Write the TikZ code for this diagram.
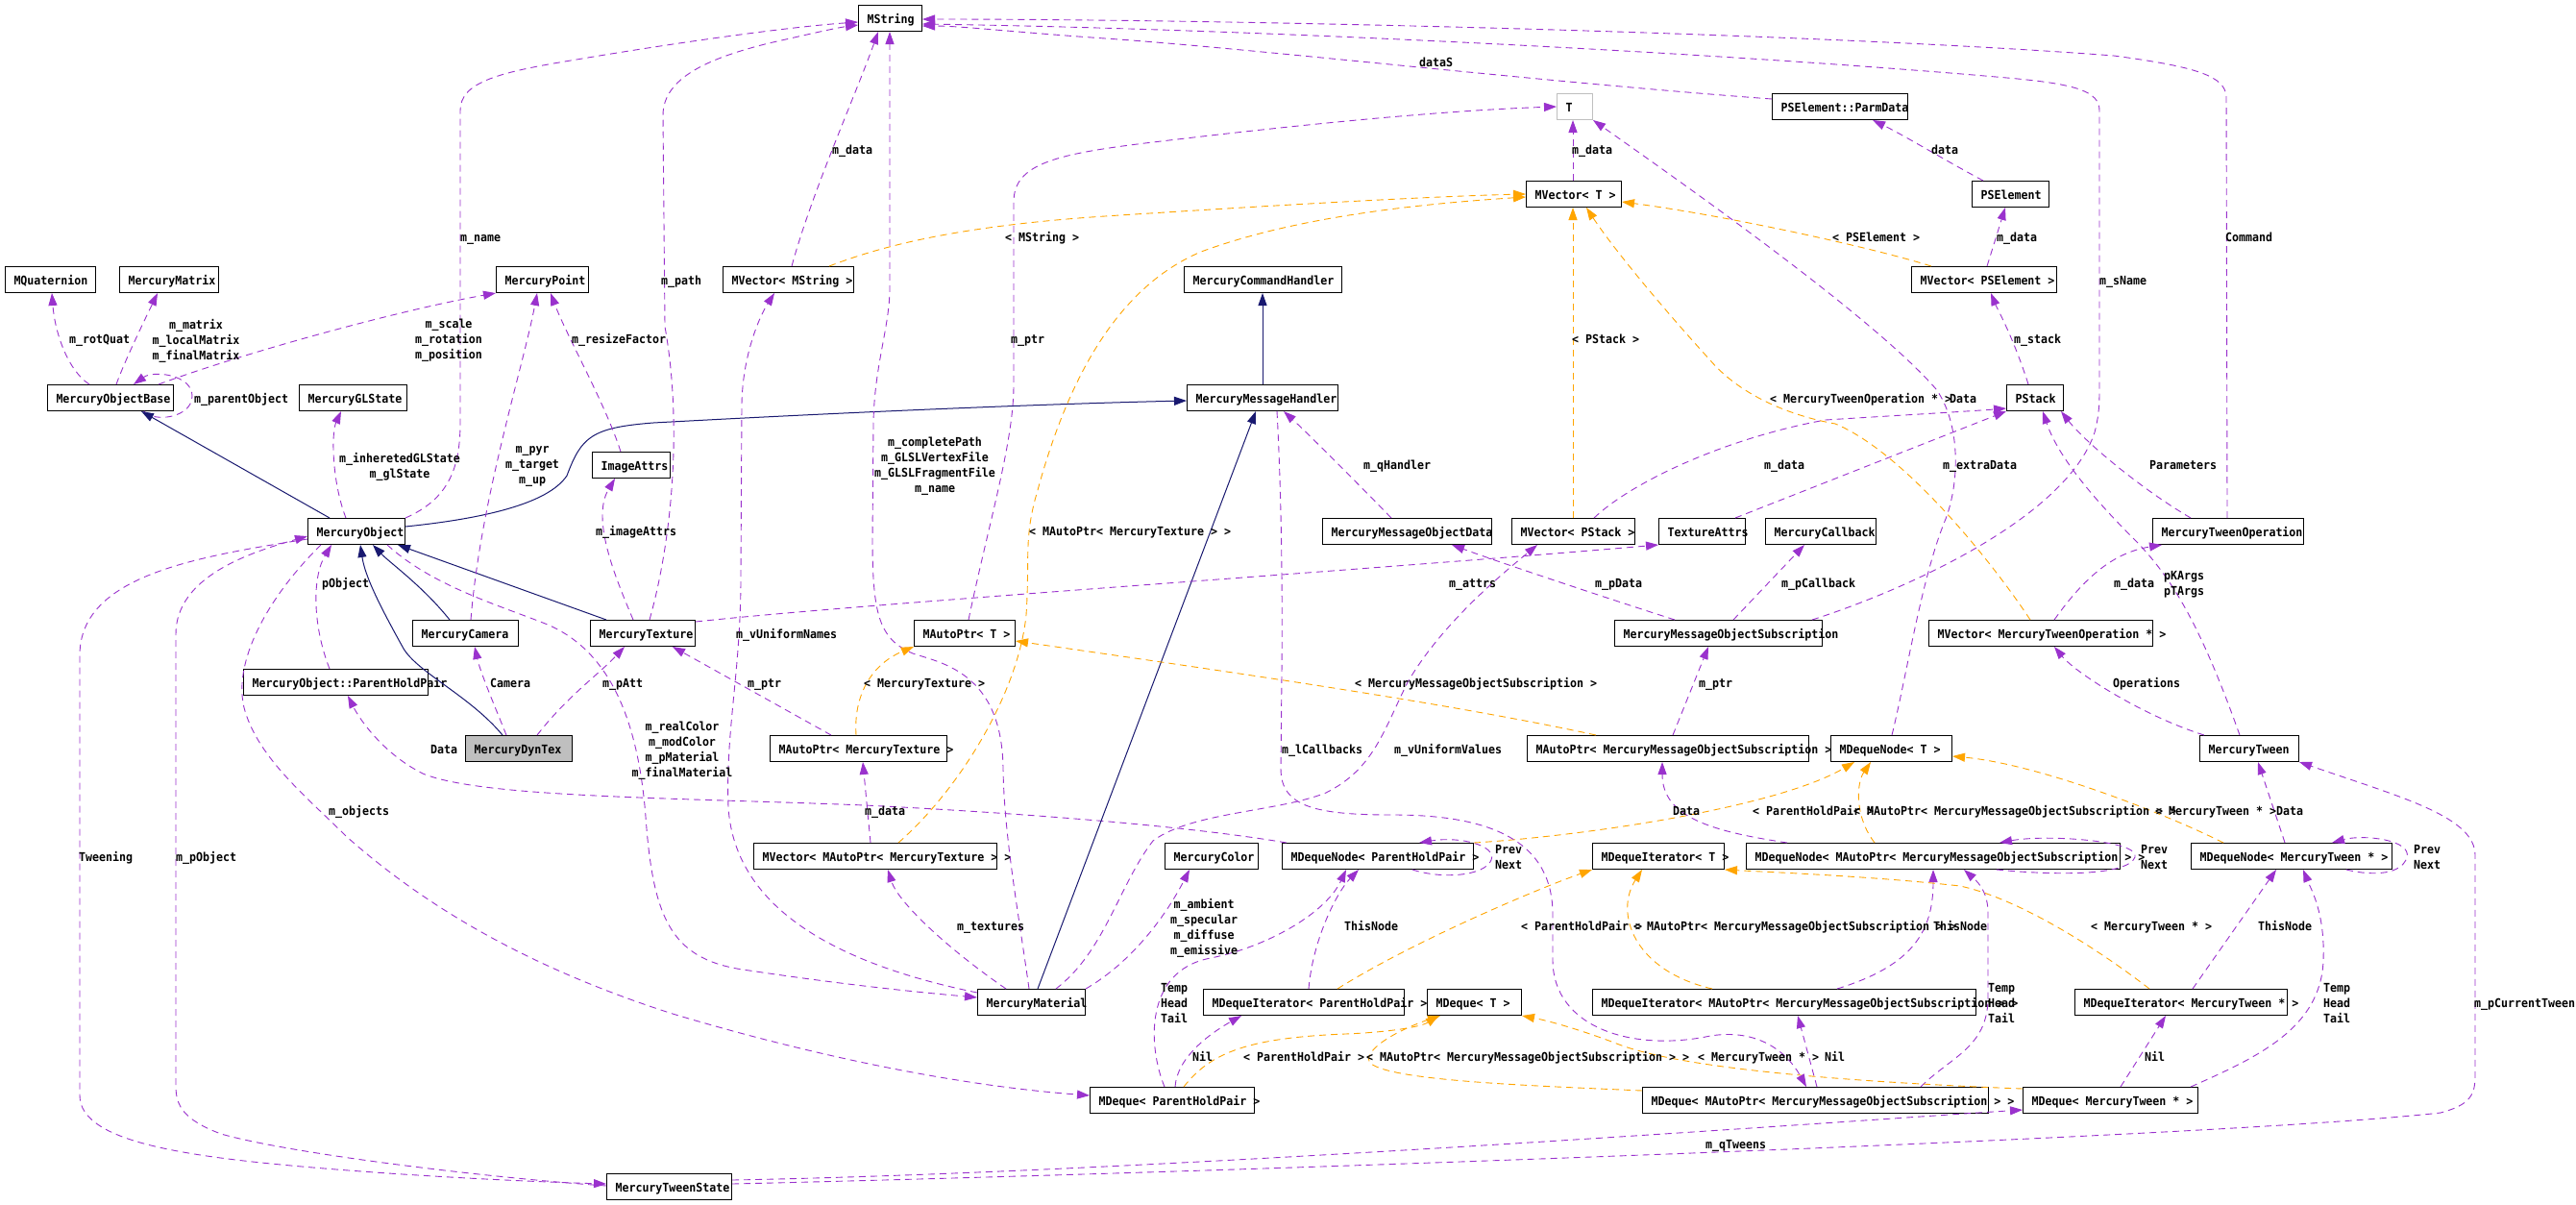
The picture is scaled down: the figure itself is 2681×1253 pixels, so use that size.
\documentclass[tikz,border=0pt]{standalone}
\usepackage{fontspec}
\newfontfamily\dgmono[FakeStretch=0.93]{DejaVu Sans Mono}
\newcommand\dgfont{\dgmono\bfseries\fontsize{12.5}{16}\selectfont}
\usetikzlibrary{arrows.meta}
\definecolor{cpurp}{HTML}{9A32CD}
\definecolor{cnavy}{HTML}{191970}
\definecolor{corng}{HTML}{FFA500}
\definecolor{cgrey}{HTML}{BFBFBF}
\tikzset{
 cbox/.style={draw=black, line width=1pt, anchor=north west, minimum height=27pt, inner xsep=9pt, inner ysep=0pt, text height=12pt, text depth=1pt, font=\dgfont},
 lbl/.style={anchor=west, inner sep=0pt, text height=10pt, text depth=1pt, font=\dgfont},
 lblm/.style={anchor=north, inner sep=0pt, align=center, font=\dgfont},
 lbll/.style={anchor=north west, inner sep=0pt, align=left, font=\dgfont},
 euse/.style={draw=cpurp, line width=0.9pt, dash pattern=on 7pt off 5pt, -{Triangle[length=13pt,width=9pt]}},
 etpl/.style={draw=corng, line width=0.9pt, dash pattern=on 7pt off 5pt, -{Triangle[length=13pt,width=9pt]}},
 einh/.style={draw=cnavy, line width=1pt, -{Triangle[length=13pt,width=9pt]}}
}
\begin{document}
\begin{tikzpicture}[x=1pt,y=-1pt]
\fill[white] (0,0) rectangle (2681,1253);
\useasboundingbox (0,0) rectangle (2681,1253);
% nodes
\node[cbox] (MString) at (893,5) {\makebox[48pt][l]{MString}};
\node[cbox, draw=cgrey] (T) at (1620,97) {\makebox[19pt][l]{T}};
\node[cbox] (PPD) at (1844,97) {\makebox[123pt][l]{PSElement::ParmData}};
\node[cbox] (MQ) at (5,277) {\makebox[76pt][l]{MQuaternion}};
\node[cbox] (MM) at (124,277) {\makebox[85pt][l]{MercuryMatrix}};
\node[cbox] (MP) at (516,277) {\makebox[78pt][l]{MercuryPoint}};
\node[cbox] (MVS) at (752,277) {\makebox[118pt][l]{MVector< MString >}};
\node[cbox] (MCH) at (1232,277) {\makebox[146pt][l]{MercuryCommandHandler}};
\node[cbox] (MVT) at (1588,188) {\makebox[81pt][l]{MVector< T >}};
\node[cbox] (PSE) at (2052,188) {\makebox[62pt][l]{PSElement}};
\node[cbox] (MVP) at (1989,277) {\makebox[133pt][l]{MVector< PSElement >}};
\node[cbox] (MOB) at (49,400) {\makebox[113pt][l]{MercuryObjectBase}};
\node[cbox] (MGL) at (311,400) {\makebox[94pt][l]{MercuryGLState}};
\node[cbox] (MMH) at (1235,400) {\makebox[139pt][l]{MercuryMessageHandler}};
\node[cbox] (PS) at (2088,400) {\makebox[41pt][l]{PStack}};
\node[cbox] (IA) at (616,470) {\makebox[63pt][l]{ImageAttrs}};
\node[cbox] (MO) at (320,539) {\makebox[83pt][l]{MercuryObject}};
\node[cbox] (MMOD) at (1376,539) {\makebox[158pt][l]{MercuryMessageObjectData}};
\node[cbox] (MVPS) at (1573,539) {\makebox[110pt][l]{MVector< PStack >}};
\node[cbox] (TA) at (1726,539) {\makebox[72pt][l]{TextureAttrs}};
\node[cbox] (MCB) at (1837,539) {\makebox[97pt][l]{MercuryCallback}};
\node[cbox] (MTO) at (2240,539) {\makebox[139pt][l]{MercuryTweenOperation}};
\node[cbox] (MC) at (429,645) {\makebox[92pt][l]{MercuryCamera}};
\node[cbox] (MT) at (614,645) {\makebox[91pt][l]{MercuryTexture}};
\node[cbox] (MAT) at (951,645) {\makebox[87pt][l]{MAutoPtr< T >}};
\node[cbox] (MMOS) at (1680,645) {\makebox[198pt][l]{MercuryMessageObjectSubscription}};
\node[cbox] (MVTO) at (2007,645) {\makebox[215pt][l]{MVector< MercuryTweenOperation * >}};
\node[cbox] (PHP) at (253,696) {\makebox[174pt][l]{MercuryObject::ParentHoldPair}};
\node[cbox, fill=cgrey] (MDT) at (484,765) {\makebox[93pt][l]{MercuryDynTex}};
\node[cbox] (MAMT) at (801,765) {\makebox[166pt][l]{MAutoPtr< MercuryTexture >}};
\node[cbox] (MAMM) at (1589,765) {\makebox[275pt][l]{MAutoPtr< MercuryMessageObjectSubscription >}};
\node[cbox] (MDNT) at (1905,765) {\makebox[108pt][l]{MDequeNode< T >}};
\node[cbox] (MTw) at (2289,765) {\makebox[85pt][l]{MercuryTween}};
\node[cbox] (MVAMT) at (784,877) {\makebox[235pt][l]{MVector< MAutoPtr< MercuryTexture > >}};
\node[cbox] (MCol) at (1212,877) {\makebox[79pt][l]{MercuryColor}};
\node[cbox] (MDNP) at (1334,877) {\makebox[181pt][l]{MDequeNode< ParentHoldPair >}};
\node[cbox] (MDIT) at (1657,877) {\makebox[119pt][l]{MDequeIterator< T >}};
\node[cbox] (MDNA) at (1817,877) {\makebox[371pt][l]{MDequeNode< MAutoPtr< MercuryMessageObjectSubscription > >}};
\node[cbox] (MDNW) at (2280,877) {\makebox[191pt][l]{MDequeNode< MercuryTween * >}};
\node[cbox] (MMat) at (1017,1029) {\makebox[94pt][l]{MercuryMaterial}};
\node[cbox] (MDIP) at (1252,1029) {\makebox[191pt][l]{MDequeIterator< ParentHoldPair >}};
\node[cbox] (MDqT) at (1485,1029) {\makebox[80pt][l]{MDeque< T >}};
\node[cbox] (MDIA) at (1657,1029) {\makebox[381pt][l]{MDequeIterator< MAutoPtr< MercuryMessageObjectSubscription > >}};
\node[cbox] (MDIW) at (2159,1029) {\makebox[203pt][l]{MDequeIterator< MercuryTween * >}};
\node[cbox] (MDqP) at (1134,1131) {\makebox[153pt][l]{MDeque< ParentHoldPair >}};
\node[cbox] (MDqA) at (1709,1131) {\makebox[342pt][l]{MDeque< MAutoPtr< MercuryMessageObjectSubscription > >}};
\node[cbox] (MDqW) at (2105,1131) {\makebox[164pt][l]{MDeque< MercuryTween * >}};
\node[cbox] (MTS) at (631,1221) {\makebox[112pt][l]{MercuryTweenState}};
% edges
\draw[euse] ([xshift=44pt]MOB.north west) .. controls (70,385) and (57,345) .. ([xshift=49pt]MQ.south west);
\draw[euse] ([xshift=72pt]MOB.north west) .. controls (130,375) and (152,330) .. ([xshift=40pt]MM.south west);
\draw[euse] ([xshift=116pt]MOB.north west) .. controls (260,365) and (420,322) .. (MP.south west);
\draw[euse] ([xshift=101pt]MOB.south west) .. controls (160,440) and (200,435) .. (200,412) .. controls (200,390) and (160,385) .. ([xshift=90pt]MOB.north west);
\draw[einh] ([xshift=23pt]MO.north west) -- ([xshift=98pt]MOB.south west);
\draw[euse] ([xshift=40pt]MO.north west) .. controls (345,500) and (345,450) .. ([xshift=44pt]MGL.south west);
\draw[euse] (MO.north east) .. controls (465,520) and (479,490) .. (479,440) -- (479,115) .. controls (479,85) and (520,75) .. (600,62) .. controls (700,45) and (820,28) .. ([yshift=-18pt]MString.north west);
\draw[einh] ([yshift=-9pt]MO.north east) .. controls (500,540) and (570,525) .. (590,495) .. controls (605,455) and (615,445) .. (680,440) .. controls (900,428) and (1100,420) .. ([yshift=-17pt]MMH.north west);
\draw[einh] ([xshift=39pt]MC.north west) .. controls (440,610) and (405,585) .. ([xshift=68pt]MO.south west);
\draw[einh] ([xshift=17pt]MT.north west) -- ([xshift=94pt]MO.south west);
\draw[einh] ([xshift=39pt]MDT.north west) .. controls (490,725) and (435,700) .. (420,675) .. controls (395,630) and (380,600) .. ([xshift=55pt]MO.south west);
\draw[euse] ([xshift=61pt]MC.north west) .. controls (500,520) and (545,380) .. ([xshift=43pt]MP.south west);
\draw[euse] ([xshift=30pt]IA.north west) .. controls (630,420) and (590,350) .. ([xshift=57pt]MP.south west);
\draw[euse] ([xshift=45pt]MT.north west) .. controls (640,600) and (615,540) .. ([xshift=24pt]IA.south west);
\draw[euse] ([xshift=62pt]MT.north west) .. controls (700,560) and (710,440) .. (692,340) -- (690,120) .. controls (690,80) and (740,60) .. (800,45) .. controls (840,36) and (870,29) .. ([yshift=-21pt]MString.north west);
\draw[euse] ([xshift=43pt]MDT.north west) .. controls (515,735) and (500,700) .. ([xshift=65pt]MC.south west);
\draw[euse] ([xshift=75pt]MDT.north west) .. controls (590,725) and (625,700) .. ([xshift=36pt]MT.south west);
\draw[euse] ([xshift=90pt]PHP.north west) .. controls (325,650) and (325,600) .. ([xshift=25pt]MO.south west);
\draw[euse] ([xshift=5pt]MDNP.north west) .. controls (1250,862) and (1100,848) .. (900,838) .. controls (700,830) and (500,830) .. (440,805) .. controls (400,785) and (375,750) .. ([xshift=109pt]PHP.south west);
\draw[euse] ([xshift=83pt]MO.south west) .. controls (450,610) and (520,630) .. (570,650) .. controls (640,680) and (665,760) .. (672,850) .. controls (680,960) and (700,1000) .. (780,1010) .. controls (880,1025) and (960,1033) .. ([yshift=-9pt]MMat.north west);
\draw[euse] ([yshift=-4pt]MMat.north west) .. controls (880,1005) and (765,950) .. (758,840) .. controls (755,760) and (771,700) .. (771,600) -- (772,420) .. controls (773,370) and (790,330) .. ([xshift=54pt]MVS.south west);
\draw[euse] ([xshift=54pt]MMat.north west) .. controls (1060,950) and (1045,870) .. (1044,800) .. controls (1043,700) and (980,690) .. (950,680) .. controls (915,665) and (908,640) .. (908,560) -- (909,440) .. controls (910,380) and (926,340) .. (926,300) -- ([xshift=33pt]MString.south west);
\draw[euse] ([xshift=30pt]MMat.north west) .. controls (990,990) and (935,940) .. ([xshift=140pt]MVAMT.south west);
\draw[einh] ([xshift=63pt]MMat.north west) -- ([xshift=72pt]MMH.south west);
\draw[euse] ([xshift=82pt]MMat.north west) .. controls (1150,990) and (1165,920) .. (1200,875) .. controls (1240,845) and (1330,845) .. (1380,825) .. controls (1430,800) and (1440,760) .. (1465,710) .. controls (1500,650) and (1560,600) .. ([xshift=27pt]MVPS.south west);
\draw[euse] (MMat.north east) .. controls (1180,1000) and (1215,950) .. ([xshift=26pt]MCol.south west);
\draw[euse] ([yshift=-2pt]MT.north east) .. controls (900,628) and (1400,595) .. (TA.south west);
\draw[euse] ([xshift=64pt]MAMT.north west) -- ([xshift=86pt]MT.south west);
\draw[etpl] ([xshift=90pt]MAMT.north west) .. controls (888,720) and (910,690) .. (MAT.south west);
\draw[euse] ([xshift=122pt]MVAMT.north west) -- ([xshift=97pt]MAMT.south west);
\draw[etpl] ([xshift=151pt]MVAMT.north west) .. controls (1000,820) and (1060,720) .. (1068,640) .. controls (1072,580) and (1065,560) .. (1080,510) .. controls (1110,400) and (1160,300) .. (1250,262) .. controls (1350,225) and (1480,212) .. ([yshift=-17pt]MVT.north west);
\draw[etpl] ([xshift=111pt]MVS.north west) .. controls (920,255) and (1000,235) .. (1150,225) .. controls (1350,212) and (1500,204) .. ([yshift=-14pt]MVT.north west);
\draw[euse] ([xshift=72pt]MVS.north west) .. controls (845,200) and (890,100) .. ([xshift=21pt]MString.south west);
\draw[euse] ([xshift=49pt]MVT.north west) -- ([xshift=17pt]T.south west);
\draw[euse] ([xshift=57pt]MAT.north west) .. controls (1030,540) and (1055,460) .. (1055,400) -- (1055,210) .. controls (1055,170) and (1100,160) .. (1200,148) .. controls (1350,130) and (1500,115) .. ([yshift=-14pt]T.north west);
\draw[etpl] ([xshift=72pt]MAMM.north west) .. controls (1500,730) and (1250,695) .. ([yshift=-22pt]MAT.north east);
\draw[euse] ([xshift=152pt]MAMM.north west) -- ([xshift=98pt]MMOS.south west);
\draw[euse] ([xshift=63pt]MMOS.north west) .. controls (1680,625) and (1560,585) .. ([xshift=135pt]MMOD.south west);
\draw[euse] ([xshift=124pt]MMOS.north west) -- ([xshift=41pt]MCB.south west);
\draw[euse] ([xshift=206pt]MMOS.north west) .. controls (1980,615) and (2150,540) .. (2180,450) .. controls (2185,430) and (2185,420) .. (2185,400) -- (2185,115) .. controls (2185,95) and (2160,88) .. (2100,82) .. controls (1800,55) and (1300,30) .. ([yshift=-20pt]MString.north east);
\draw[euse] ([xshift=78pt]MTO.north west) -- (2317,100) .. controls (2315,80) and (2290,70) .. (2200,58) .. controls (1900,35) and (1300,20) .. ([yshift=-15pt]MString.north east);
\draw[euse] ([yshift=-6pt]PPD.north west) .. controls (1600,85) and (1300,50) .. (1150,40) .. controls (1050,33) and (1000,27) .. ([yshift=-22pt]MString.north east);
\draw[euse] ([xshift=12pt]PSE.north west) .. controls (2030,170) and (1980,140) .. ([xshift=105pt]PPD.south west);
\draw[euse] ([xshift=79pt]MVP.north west) -- ([xshift=35pt]PSE.south west);
\draw[etpl] ([xshift=21pt]MVP.north west) .. controls (1950,258) and (1800,225) .. ([yshift=-22pt]MVT.north east);
\draw[euse] ([xshift=23pt]PS.north west) .. controls (2095,350) and (2078,320) .. ([xshift=83pt]MVP.south west);
\draw[euse] ([xshift=86pt]MVPS.north west) .. controls (1700,500) and (1800,455) .. (1900,437) .. controls (1980,432) and (2050,428) .. ([yshift=-25pt]PS.north west);
\draw[euse] ([xshift=80pt]TA.north west) -- (PS.south west);
\draw[euse] ([xshift=64pt]MDNT.north west) .. controls (1985,700) and (2000,600) .. (2025,540) .. controls (2040,500) and (2040,440) .. (2015,405) .. controls (1950,330) and (1750,190) .. (T.south east);
\draw[etpl] ([xshift=106pt]MVTO.north west) .. controls (2070,580) and (1980,470) .. (1910,441) .. controls (1860,432) and (1810,410) .. (1780,375) .. controls (1730,320) and (1680,260) .. ([xshift=63pt]MVT.south west);
\draw[etpl] ([xshift=64pt]MVPS.north west) -- ([xshift=49pt]MVT.south west);
\draw[euse] ([xshift=131pt]MVTO.north west) .. controls (2170,600) and (2200,575) .. ([xshift=10pt]MTO.south west);
\draw[euse] ([xshift=40pt]MTO.north west) .. controls (2230,510) and (2170,460) .. ([xshift=57pt]PS.south west);
\draw[euse] ([xshift=42pt]MTw.north west) .. controls (2290,650) and (2260,600) .. (2220,560) .. controls (2170,510) and (2140,470) .. ([xshift=38pt]PS.south west);
\draw[euse] ([xshift=5pt]MTw.north west) .. controls (2230,745) and (2160,700) .. ([xshift=131pt]MVTO.south west);
\draw[euse] ([xshift=98pt]MDNW.north west) -- ([xshift=61pt]MTw.south west);
\draw[etpl] ([xshift=34pt]MDNW.north west) .. controls (2250,845) and (2120,795) .. ([yshift=-22pt]MDNT.north east);
\draw[euse] ([yshift=-11pt]MTS.north east) .. controls (1200,1222) and (2300,1185) .. (2540,1158) .. controls (2570,1150) and (2576,1140) .. (2576,1120) -- (2576,890) .. controls (2576,850) and (2500,830) .. (MTw.south east);
\draw[euse] ([yshift=-7pt]MTS.north east) .. controls (1200,1220) and (1900,1168) .. ([yshift=-24pt]MDqW.north west);
\draw[euse] ([yshift=-22pt]MO.north west) .. controls (200,580) and (85,600) .. (83,680) -- (83,1140) .. controls (83,1190) and (200,1205) .. (350,1217) .. controls (450,1225) and (560,1230) .. ([yshift=-11pt]MTS.north west);
\draw[euse] ([yshift=-13pt]MTS.north west) .. controls (500,1225) and (300,1200) .. (230,1180) .. controls (190,1165) and (183,1150) .. (183,1130) -- (183,660) .. controls (183,600) and (260,575) .. ([yshift=-19pt]MO.north west);
\draw[euse] ([xshift=14pt]MO.south west) .. controls (280,620) and (240,690) .. (255,740) .. controls (270,790) and (320,830) .. (360,870) .. controls (450,950) and (560,1010) .. (700,1055) .. controls (850,1100) and (1000,1130) .. ([yshift=-9pt]MDqP.north west);
\draw[euse] ([xshift=89pt]MDqP.north west) .. controls (1225,1100) and (1260,1075) .. ([xshift=40pt]MDIP.south west);
\draw[euse] ([xshift=78pt]MDqP.north west) .. controls (1195,1090) and (1190,1010) .. (1260,997) .. controls (1320,985) and (1380,950) .. ([xshift=67pt]MDNP.south west);
\draw[etpl] ([xshift=98pt]MDqP.north west) .. controls (1260,1095) and (1300,1080) .. (1400,1076) .. controls (1450,1074) and (1480,1068) .. ([xshift=12pt]MDqT.south west);
\draw[euse] ([xshift=110pt]MDIP.north west) .. controls (1366,980) and (1390,930) .. ([xshift=80pt]MDNP.south west);
\draw[etpl] ([xshift=140pt]MDIP.north west) .. controls (1470,980) and (1600,925) .. (MDIT.south west);
\draw[euse] ([xshift=136pt]MDNP.south west) .. controls (1500,915) and (1545,912) .. (1552,895) .. controls (1558,880) and (1520,870) .. ([xshift=143pt]MDNP.north west);
\draw[etpl] (MDNP.north east) .. controls (1650,870) and (1850,840) .. ([xshift=25pt]MDNT.south west);
\draw[euse] ([xshift=43pt]MDNA.north west) .. controls (1780,865) and (1730,850) .. ([xshift=141pt]MAMM.south west);
\draw[etpl] ([xshift=134pt]MDNA.north west) .. controls (1930,850) and (1932,815) .. ([xshift=42pt]MDNT.south west);
\draw[euse] ([xshift=261pt]MDNA.south west) .. controls (2150,912) and (2215,910) .. (2222,892) .. controls (2228,875) and (2130,868) .. ([xshift=264pt]MDNA.north west);
\draw[euse] ([xshift=290pt]MDqA.north west) .. controls (2030,1100) and (2068,1090) .. (2069,1040) -- (2069,950) .. controls (2069,925) and (2055,915) .. ([xshift=227pt]MDNA.south west);
\draw[euse] ([xshift=255pt]MDIA.north west) .. controls (1990,1005) and (2012,970) .. ([xshift=195pt]MDNA.south west);
\draw[etpl] ([xshift=125pt]MDIA.north west) .. controls (1700,1010) and (1680,950) .. ([xshift=52pt]MDIT.south west);
\draw[euse] ([xshift=182pt]MDqA.north west) -- ([xshift=214pt]MDIA.south west);
\draw[etpl] ([yshift=-4pt]MDqA.north west) .. controls (1600,1130) and (1440,1125) .. (1425,1105) .. controls (1420,1090) and (1460,1070) .. ([xshift=14pt]MDqT.south west);
\draw[etpl] ([yshift=-2pt]MDqW.north west) .. controls (1900,1125) and (1740,1110) .. (1680,1085) .. controls (1640,1070) and (1610,1062) .. (MDqT.south east);
\draw[euse] ([xshift=102pt]MDqW.north west) -- ([xshift=95pt]MDIW.south west);
\draw[euse] ([xshift=175pt]MDqW.north west) .. controls (2350,1100) and (2415,1070) .. (2418,1000) .. controls (2420,950) and (2405,925) .. ([xshift=117pt]MDNW.south west);
\draw[euse] ([xshift=123pt]MDIW.north west) -- ([xshift=89pt]MDNW.south west);
\draw[etpl] ([xshift=78pt]MDIW.north west) .. controls (2180,985) and (2100,935) .. (2040,922) .. controls (1950,912) and (1850,908) .. (MDIT.south east);
\draw[euse] ([xshift=162pt]MDNW.south west) .. controls (2470,912) and (2500,910) .. (2505,892) .. controls (2510,874) and (2460,868) .. ([xshift=147pt]MDNW.north west);
\draw[einh] ([xshift=79pt]MMH.north west) -- ([xshift=82pt]MCH.south west);
\draw[euse] ([xshift=72pt]MMOD.north west) .. controls (1410,500) and (1360,450) .. ([xshift=101pt]MMH.south west);
\draw[euse] ([xshift=94pt]MMH.south west) .. controls (1333,500) and (1335,600) .. (1334,700) -- (1333,800) .. controls (1333,840) and (1370,848) .. (1450,848) .. controls (1560,848) and (1615,880) .. (1616,950) -- (1616,1000) .. controls (1617,1070) and (1700,1095) .. (1780,1078) .. controls (1830,1070) and (1860,1095) .. ([xshift=171pt]MDqA.north west);
% labels
\node[lbl] (l1) at (479,247) {m\_name};
\node[lbl] (l2) at (72,353) {m\_rotQuat};
\node[lblm] (l3) at (204,332) {m\_matrix\\m\_localMatrix\\m\_finalMatrix};
\node[lblm] (l4) at (467,332) {m\_scale\\m\_rotation\\m\_position};
\node[lbl] (l5) at (595,353) {m\_resizeFactor};
\node[lbl] (l6) at (202,415) {m\_parentObject};
\node[lbl] (l7) at (866,156) {m\_data};
\node[lbl] (l8) at (688,292) {m\_path};
\node[lbl] (l9) at (1046,247) {< MString >};
\node[lbl] (l10) at (1052,353) {m\_ptr};
\node[lbl] (l11) at (1477,65) {dataS};
\node[lbl] (l12) at (1636,156) {m\_data};
\node[lbl] (l13) at (1907,247) {< PSElement >};
\node[lbl] (l14) at (1636,353) {< PStack >};
\node[lbl] (l15) at (1842,415) {< MercuryTweenOperation * >};
\node[lbl] (l16) at (2029,415) {Data};
\node[lbl] (l17) at (2010,156) {data};
\node[lbl] (l18) at (2078,247) {m\_data};
\node[lbl] (l19) at (2096,353) {m\_stack};
\node[lbl] (l20) at (2185,292) {m\_sName};
\node[lbl] (l21) at (2316,247) {Command};
\node[lblm] (l22) at (416,471) {m\_inheretedGLState\\m\_glState};
\node[lblm] (l23) at (554,464) {m\_pyr\\m\_target\\m\_up};
\node[lbl] (l24) at (620,553) {m\_imageAttrs};
\node[lbl] (l25) at (335,607) {pObject};
\node[lbl] (l26) at (510,711) {Camera};
\node[lbl] (l27) at (627,711) {m\_pAtt};
\node[lbl] (l28) at (448,780) {Data};
\node[lbl] (l29) at (342,844) {m\_objects};
\node[lblm] (l30) at (710,751) {m\_realColor\\m\_modColor\\m\_pMaterial\\m\_finalMaterial};
\node[lblm] (l31) at (973,455) {m\_completePath\\m\_GLSLVertexFile\\m\_GLSLFragmentFile\\m\_name};
\node[lbl] (l32) at (1071,553) {< MAutoPtr< MercuryTexture > >};
\node[lbl] (l33) at (766,660) {m\_vUniformNames};
\node[lbl] (l34) at (778,711) {m\_ptr};
\node[lbl] (l35) at (899,711) {< MercuryTexture >};
\node[lbl] (l36) at (900,844) {m\_data};
\node[lbl] (l37) at (1419,484) {m\_qHandler};
\node[lbl] (l38) at (1836,484) {m\_data};
\node[lbl] (l39) at (1508,607) {m\_attrs};
\node[lbl] (l40) at (1660,607) {m\_pData};
\node[lbl] (l41) at (1854,607) {m\_pCallback};
\node[lbl] (l42) at (1410,711) {< MercuryMessageObjectSubscription >};
\node[lbl] (l43) at (1768,711) {m\_ptr};
\node[lbl] (l44) at (1334,780) {m\_lCallbacks};
\node[lbl] (l45) at (1451,780) {m\_vUniformValues};
\node[lbl] (l46) at (1741,844) {Data};
\node[lbl] (l47) at (1824,844) {< ParentHoldPair >};
\node[lbl] (l48) at (1929,844) {< MAutoPtr< MercuryMessageObjectSubscription > >};
\node[lbl] (l49) at (2243,844) {< MercuryTween * >};
\node[lbl] (l50) at (2369,844) {Data};
\node[lbl] (l51) at (2022,484) {m\_extraData};
\node[lbl] (l52) at (2237,484) {Parameters};
\node[lbl] (l53) at (2200,607) {m\_data};
\node[lbll] (l54) at (2252,594) {pKArgs\\pTArgs};
\node[lbl] (l55) at (2199,711) {Operations};
\node[lbl] (l56) at (82,892) {Tweening};
\node[lbl] (l57) at (183,892) {m\_pObject};
\node[lbl] (l58) at (996,964) {m\_textures};
\node[lblm] (l59) at (1253,935) {m\_ambient\\m\_specular\\m\_diffuse\\m\_emissive};
\node[lblm] (l60) at (1222,1023) {Temp\\Head\\Tail};
\node[lbl] (l61) at (1241,1100) {Nil};
\node[lbl] (l62) at (1294,1100) {< ParentHoldPair >};
\node[lbll] (l63) at (1556,879) {Prev\\Next};
\node[lbl] (l64) at (1399,964) {ThisNode};
\node[lbl] (l65) at (1583,964) {< ParentHoldPair >};
\node[lbl] (l66) at (1700,964) {< MAutoPtr< MercuryMessageObjectSubscription > >};
\node[lbl] (l67) at (2012,964) {ThisNode};
\node[lbl] (l68) at (1422,1100) {< MAutoPtr< MercuryMessageObjectSubscription > >};
\node[lbl] (l69) at (1767,1100) {< MercuryTween * >};
\node[lbl] (l70) at (1899,1100) {Nil};
\node[lbl] (l71) at (1775,1191) {m\_qTweens};
\node[lbll] (l72) at (2228,879) {Prev\\Next};
\node[lbll] (l73) at (2512,879) {Prev\\Next};
\node[lbl] (l74) at (2176,964) {< MercuryTween * >};
\node[lbl] (l75) at (2350,964) {ThisNode};
\node[lblm] (l76) at (2083,1023) {Temp\\Head\\Tail};
\node[lblm] (l77) at (2432,1023) {Temp\\Head\\Tail};
\node[lbl] (l78) at (2232,1100) {Nil};
\node[lbl] (l79) at (2575,1044) {m\_pCurrentTween};
\end{tikzpicture}
\end{document}
